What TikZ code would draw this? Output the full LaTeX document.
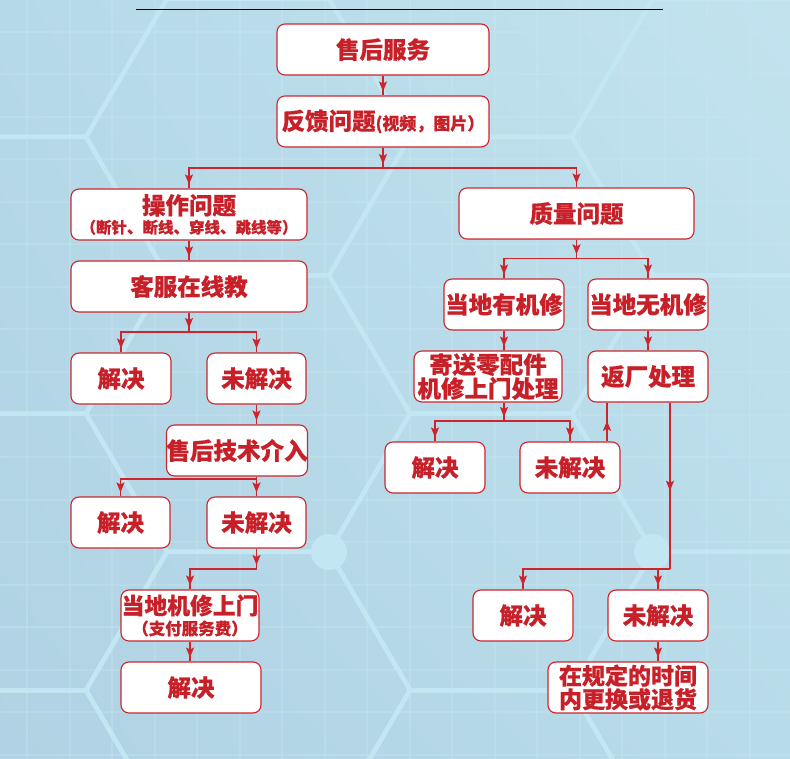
\documentclass[tikz,border=0pt]{standalone}
\usepackage{fontspec}
\newfontfamily\cjk{Noto Sans CJK SC}[BoldFeatures={FakeBold=0.5}]
\usetikzlibrary{arrows.meta,decorations.markings,shadings}
\definecolor{bgUL}{RGB}{182,217,232}
\definecolor{bgUR}{RGB}{194,227,238}
\definecolor{bgLL}{RGB}{176,210,228}
\definecolor{bgLR}{RGB}{184,219,233}
\definecolor{hexc}{RGB}{194,231,242}
\definecolor{gridc}{RGB}{200,230,240}
\definecolor{boxred}{RGB}{204,38,44}
\definecolor{txtred}{RGB}{200,32,40}
\definecolor{linered}{RGB}{204,38,44}
\begin{document}
\begin{tikzpicture}[x=1pt,y=-1pt,
  box/.style={draw=boxred, line width=1.1pt, fill=white, rounded corners=8pt,
    inner sep=0pt, text=txtred, align=center, minimum height=51pt,
    font=\cjk\bfseries\fontsize{23.5}{24}\selectfont},
  conn/.style={draw=linered, line width=1.3pt},
  tipk/.tip={Stealth[length=10pt,width=8pt,inset=2pt,color=linered]},
  tipend/.style={postaction={decorate,decoration={markings,
    mark=at position -4pt with {\arrow{tipk}}}}},
  tipmid/.style={postaction={decorate,decoration={markings,
    mark=at position 0.53 with {\arrow{tipk}}}}},
  hexline/.style={draw=hexc, line width=4.5pt, line join=round},
  gridline/.style={draw=gridc, line width=2pt, opacity=0.35}]
\useasboundingbox (0,0) rectangle (790,759);
% background
\shade[upper left=bgUL, upper right=bgUR, lower left=bgLL, lower right=bgLR] (0,0) rectangle (790,759);
\begin{scope}
\clip (0,0) rectangle (790,759);
\foreach \i in {0,...,18} { \draw[gridline] ({27+42.5*\i},0) -- ({27+42.5*\i},759); }
\foreach \j in {0,...,17} { \draw[gridline] (0,{32+42.5*\j}) -- (790,{32+42.5*\j}); }
\foreach \cx/\cy in {5/-1.3, 5/275.3, 5/552, 5/828.6, 248/-139.3, 248/137, 248/413.6, 248/690, 491/-1.3, 491/275.3, 491/552, 491/828.6, 734/-139.3, 734/137, 734/413.6, 734/690, 977/-1.3, 977/275.3, 977/552, 977/828.6}
  \draw[hexline] ({\cx-162},\cy) -- ({\cx-81},{\cy-138.3}) -- ({\cx+81},{\cy-138.3}) -- ({\cx+162},\cy) -- ({\cx+81},{\cy+138.3}) -- ({\cx-81},{\cy+138.3}) -- cycle;
\fill[hexc] (329,552) circle (18pt);
\fill[hexc] (652,552) circle (18pt);
\end{scope}
% top rule
\draw[black, line width=1.3pt] (136,9.5) -- (663,9.5);
% nodes
\node[box, minimum width=212pt] (b1) at (383,49.5) {售后服务};
\node[box, minimum width=212pt] (b2) at (383,121.5) {反馈问题{\fontsize{17}{17}\selectfont(视频，图片）}};
\node[box, minimum width=236pt, font=\cjk\bfseries\fontsize{23.5}{19}\selectfont] (b3) at (189,214.5) {操作问题\\{\fontsize{15.5}{19}\selectfont（断针、断线、穿线、跳线等）}};
\node[box, minimum width=235pt] (b4) at (576.5,213.5) {质量问题};
\node[box, minimum width=236pt] (b5) at (189,286.5) {客服在线教};
\node[box, minimum width=100pt] (b6) at (121,378.5) {解决};
\node[box, minimum width=99pt] (b7) at (256.5,378.5) {未解决};
\node[box, minimum width=138pt] (b8) at (237,450.5) {售后技术介入};
\node[box, minimum width=99pt] (b9) at (120.5,522.5) {解决};
\node[box, minimum width=99pt] (b10) at (256.5,522.5) {未解决};
\node[box, minimum width=138pt, font=\cjk\bfseries\fontsize{22.8}{20.5}\selectfont] (b11) at (190,615.5) {当地机修上门\\{\fontsize{16.5}{20.5}\selectfont（支付服务费）}};
\node[box, minimum width=140pt] (b12) at (191,687.5) {解决};
\node[box, minimum width=120pt] (b13) at (504,304.5) {当地有机修};
\node[box, minimum width=120pt] (b14) at (648,304.5) {当地无机修};
\node[box, minimum width=148pt, font=\cjk\bfseries\fontsize{23.5}{24}\selectfont] (b15) at (488,376.5) {寄送零配件\\机修上门处理};
\node[box, minimum width=120pt] (b16) at (648,376.5) {返厂处理};
\node[box, minimum width=100pt] (b17) at (435,467.5) {解决};
\node[box, minimum width=100pt] (b18) at (570,467.5) {未解决};
\node[box, minimum width=100pt] (b19) at (523,615.5) {解决};
\node[box, minimum width=100pt] (b20) at (658,615.5) {未解决};
\node[box, minimum width=160pt, font=\cjk\bfseries\fontsize{23}{23.5}\selectfont] (b21) at (628,687.5) {在规定的时间\\内更换或退货};
% junctions
\coordinate (j2) at (383,168);
\coordinate (j5) at (189,332);
\coordinate (j8) at (256.5,479);
\coordinate (j10) at (256.5,569);
\coordinate (j4) at (576.5,258.3);
\coordinate (j15) at (504,421);
\coordinate (j16) at (670,569);
% connectors left
\draw[conn, tipend] (b1.south) -- (b2.north);
\draw[conn, tipend] (b2.south) -- (j2);
\draw[conn, tipend] (j2) -| (b3.north);
\draw[conn, tipend] (j2) -| (b4.north);
\draw[conn, tipend] (b3.south) -- (b5.north);
\draw[conn, tipend] (b5.south) -- (j5);
\draw[conn, tipend] (j5) -| (b6.north);
\draw[conn, tipend] (j5) -| (b7.north);
\draw[conn, tipend] (b7.south) -- (b7.south |- b8.north);
\draw[conn] (j8 |- b8.south) -- (j8);
\draw[conn, tipend] (j8) -- (b10.north);
\draw[conn, tipend] (j8) -| (b9.north);
\draw[conn, tipend] (b10.south) -- (j10);
\draw[conn, tipend] (j10) -| (b11.north);
\draw[conn, tipend] (b11.south) -- (b11.south |- b12.north);
% connectors right
\draw[conn, tipend] (b4.south) -- (j4);
\draw[conn, tipend] (j4) -| (b13.north);
\draw[conn, tipend] (j4) -| (b14.north);
\draw[conn, tipend] (b13.south) -- (b13.south |- b15.north);
\draw[conn, tipend] (b14.south) -- (b16.north);
\draw[conn, tipend] (j15 |- b15.south) -- (j15);
\draw[conn, tipend] (j15) -| (b17.north);
\draw[conn, tipend] (j15) -| (b18.north);
\draw[conn, tipmid] ([xshift=37pt]b18.north) -- ([xshift=37pt]b18.north |- b16.south);
\draw[conn, tipmid] (j16 |- b16.south) -- (j16);
\draw[conn, tipend] (j16) -| (b19.north);
\draw[conn, tipend] (j16 -| b20.north) -- (b20.north);
\draw[conn, tipend] (b20.south) -- (b20.south |- b21.north);
\end{tikzpicture}
\end{document}
